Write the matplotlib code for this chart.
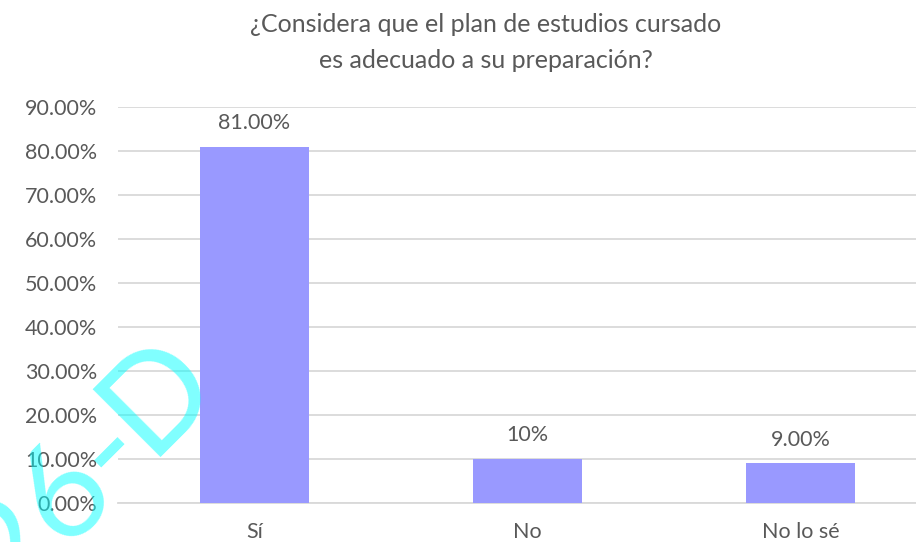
import matplotlib
matplotlib.use("Agg")
import matplotlib.pyplot as plt
from matplotlib.ticker import FuncFormatter

# chart data
categories = ["Sí", "No", "No lo sé"]
values = [81.0, 10.0, 9.0]
value_labels = ["81.00%", "10%", "9.00%"]
title_lines = ["¿Considera que el plan de estudios cursado", "es adecuado a su preparación?"]

plt.rcParams['font.family'] = ['Lato', 'DejaVu Sans']
text_col = "#595959"
bar_col = "#9999FF"
grid_col = "#D9D9D9"

W, H = 916, 542
fig = plt.figure(figsize=(W / 100, H / 100), dpi=100)
ax = fig.add_axes([118 / W, 1 - 503 / H, (916 - 118) / W, (503 - 107) / H])

x = list(range(len(categories)))
bars = ax.bar(x, values, width=0.4, color=bar_col, zorder=3)

ax.set_ylim(0, 90)
ax.set_xlim(-0.5, -0.5 + (916 - 118) / 273)
ax.set_yticks(range(0, 91, 10))
ax.yaxis.set_major_formatter(FuncFormatter(lambda v, p: f"{v:.2f}%"))
ax.set_xticks(x)
ax.set_xticklabels(categories)
ax.tick_params(axis='both', length=0, labelsize=15.5, labelcolor=text_col)
ax.tick_params(axis='y', pad=15)
ax.tick_params(axis='x', pad=14)

ax.grid(axis='y', color=grid_col, linewidth=1.3, zorder=0)
for s in ['left', 'right', 'top']:
    ax.spines[s].set_visible(False)
ax.spines['bottom'].set_color(grid_col)
ax.spines['bottom'].set_linewidth(1.3)

for b, lab in zip(bars, value_labels):
    ax.annotate(lab, (b.get_x() + b.get_width() / 2, b.get_height()),
                xytext=(0, 10), textcoords='offset points',
                ha='center', va='bottom', fontsize=15.5, color=text_col)

fig.text(486 / W, 1 - 25 / H, title_lines[0], ha='center', va='center',
         fontsize=18, color=text_col)
fig.text(486 / W, 1 - 60 / H, title_lines[1], ha='center', va='center',
         fontsize=18, color=text_col)

# watermark (two pieces so the spacing is tighter, like the original)
wm = dict(rotation=45, rotation_mode='anchor', va='baseline', fontsize=96,
          color='#00FFFF', alpha=0.5, zorder=10)
fig.text(149 / W, 1 - 457 / H, "D", ha='left', **wm)
fig.text(155 / W, 1 - 458 / H, "26-", ha='right', **wm)

fig.savefig("out.png", dpi=100)
